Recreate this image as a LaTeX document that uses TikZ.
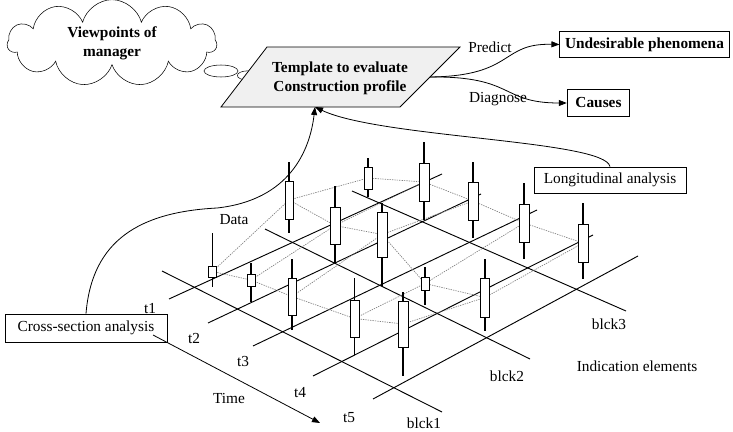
\documentclass[tikz,border=0pt]{standalone}
\usepackage{fontspec}
\setmainfont{Liberation Serif}
\usetikzlibrary{shapes.symbols,shapes.geometric,arrows.meta}
\newcommand{\dfont}{\fontsize{11.5}{14}\selectfont}

\begin{document}
\begin{tikzpicture}[x=0.75pt,y=-0.75pt,
          every node/.style={font=\dfont},
          bold/.style={font=\dfont\bfseries},
          boxnode/.style={draw,line width=0.6pt,inner sep=0pt,minimum height=20pt},
          gridline/.style={line width=0.7pt},
          meshline/.style={gray,dash pattern=on 1pt off 0.8pt,line width=0.5pt},
          wick/.style={line width=0.8pt},
          candle/.style={draw,fill=white,line width=0.6pt},
          link/.style={line width=0.6pt,-{Triangle[length=6pt,width=4.5pt]}}]
  \useasboundingbox (0,0) rectangle (733,432);

  % thought cloud of the manager
  \node[cloud,draw,cloud puffs=11,cloud ignores aspect,minimum width=157pt,
        minimum height=52pt,align=center,bold] (mgr) at (112,43) {Viewpoints of\\manager};
  \node[ellipse,draw,minimum width=25.5pt,minimum height=9pt,inner sep=0pt] (bub1) at (221,71) {};
  \node[ellipse,draw,minimum width=16pt,minimum height=7pt,inner sep=0pt] (bub2) at (248,75.5) {};
  \node[ellipse,draw,minimum width=7.5pt,minimum height=4pt,inner sep=0pt] (bub3) at (263,79.5) {};

  % template
  \draw[fill=gray!12,line width=0.6pt] (221,107) -- (400,107) -- (460,47) -- (267,47) -- cycle;
  \node[align=center,bold] (tmpl) at (340,78) {Template to evaluate\\Construction profile};
  \coordinate (tmplbot) at (315,107);
  \coordinate (tmplright) at (430,77);

  \node[boxnode,minimum width=127pt,bold] (undes) at (644.5,44.5) {Undesirable phenomena};
  \node[boxnode,minimum width=47pt,bold] (cause) at (598.5,103) {Causes};
  \node (pred) at (490,47) {Predict};
  \node (diag) at (498,99) {Diagnose};
  \draw[link] (tmplright) .. controls (515,76) and (500,43) .. (undes.west);
  \draw[link] (tmplright) .. controls (515,76) and (500,103) .. (cause.west);

  % grid of time and block lines
  \foreach \xa/\ya/\xb/\yb in {169/299/442/174, 208/323/481/194, 253/346/537/210,
                               313/376/593/235, 373/399/638/256,
                               162/271/442/412, 265/229/530/359, 352/191/626/311}
    \draw[gridline] (\xa,\ya) -- (\xb,\yb);

  \foreach \t/\x/\y in {1/150/309, 2/194/338, 3/243/361, 4/300/393, 5/349/418}
    \node (t\t) at (\x,\y) {t\t};
  \foreach \b/\x/\y in {1/424/423, 2/507/376, 3/609/324}
    \node (blck\b) at (\x,\y) {blck\b};
  \node (data) at (234,220) {Data};
  \node (time) at (229,398) {Time};
  \node (ind) at (637,366) {Indication elements};

  % candles: name/x/wick top/wick bottom/body top/body bottom/width
  \def\candles{c11/212.5/233/287/266/277/8, c12/251/263/302/274/286/8,
               c13/292/259/330/278/315/8, c14/354.5/278/355/300/337/9,
               c15/403/292/376/301/347/10,
               c21/289/162/233/181/219/8, c22/335/186/263/207/244/10,
               c23/382/203/286/212/257/10, c24/425/267/305/277/290/8,
               c25/485/259/331/278/317/9,
               c31/368/158/197/167/189/8, c32/424/142/220/163/201/10,
               c33/473/162/238/182/220/10, c34/524/183/259/204/242/10,
               c35/583/203/279/224/262/10}
  \foreach \nm/\cx/\wt/\wb/\bt/\bb/\bw in \candles
    \coordinate (\nm) at (\cx,{(\bt+\bb)/2});

  \foreach \b in {1,2,3}
    \draw[meshline] (c\b1) -- (c\b2) -- (c\b3) -- (c\b4) -- (c\b5);
  \foreach \t in {1,...,5}
    \draw[meshline] (c1\t) -- (c2\t) -- (c3\t);

  \foreach \nm/\cx/\wt/\wb/\bt/\bb/\bw in \candles {
    \draw[wick] (\cx,\wt) -- (\cx,\wb);
    \draw[candle] ({\cx-\bw/2},\bt) rectangle ({\cx+\bw/2},\bb);
  }

  % analyses
  \node[boxnode,minimum width=114pt,minimum height=19.5pt] (longi) at (610,180) {Longitudinal analysis};
  \node[boxnode,minimum width=121.5pt,minimum height=21pt] (cross) at (86,328) {Cross-section analysis};
  \draw[link] (cross.north) .. controls (92,240) and (140,212) .. (217,208)
                            .. controls (290,200) and (310,150) .. (tmplbot);
  \draw[link] (longi.north) .. controls (605,140) and (380,138) .. (tmplbot);

  \coordinate (timestart) at (153,335);
  \coordinate (timeend) at (320,423);
  \draw[link] (timestart) -- (timeend);
\end{tikzpicture}
\end{document}
